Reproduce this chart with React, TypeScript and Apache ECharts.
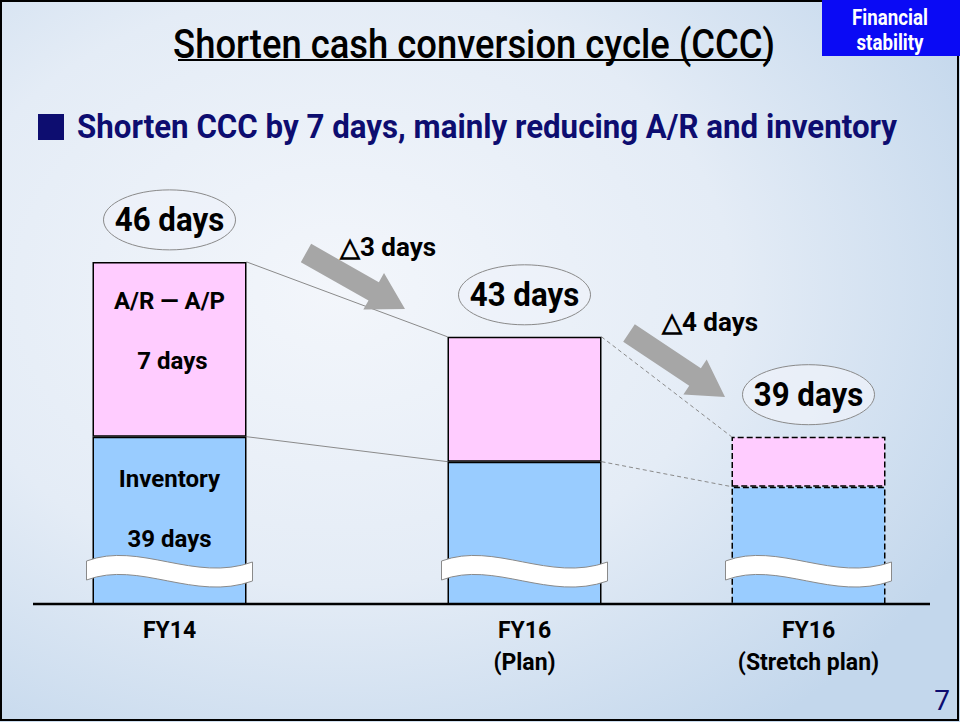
import React, { useEffect, useRef } from "react";
import * as echarts from "echarts";

// ---- data ----
const categories = ["FY14", "FY16\n(Plan)", "FY16\n(Stretch plan)"];
const inventoryDays = [39, 38, 37];
const arapDays = [7, 5, 2];
const changeLabels = ["△3 days", "△4 days"];
const titleText = "Shorten cash conversion cycle (CCC)";
const subtitleText = "Shorten CCC by 7 days, mainly reducing A/R and inventory";
const badgeLines = ["Financial", "stability"];
const pageNumber = "7";

// ---- layout ----
const SLOTS = [1, 6, 10];
const SLOT_COUNT = 12;
const Y_MIN = 32.3;
const Y_MAX = 50;
const BAR_W = 154;
const FONT = "Roboto, 'Noto Sans', sans-serif";
const NAVY = "#0D0D70";

function arrowPts(x1: number, y1: number, x2: number, y2: number, sw: number, hw: number, hl: number) {
  const dx = x2 - x1, dy = y2 - y1, L = Math.hypot(dx, dy);
  const ux = dx / L, uy = dy / L, nx = -uy, ny = ux;
  const bx = x2 - ux * hl, by = y2 - uy * hl;
  return [
    [x1 + (nx * sw) / 2, y1 + (ny * sw) / 2],
    [bx + (nx * sw) / 2, by + (ny * sw) / 2],
    [bx + (nx * hw) / 2, by + (ny * hw) / 2],
    [x2, y2],
    [bx - (nx * hw) / 2, by - (ny * hw) / 2],
    [bx - (nx * sw) / 2, by - (ny * sw) / 2],
    [x1 - (nx * sw) / 2, y1 - (ny * sw) / 2],
  ];
}

export default function App() {
  const ref = useRef<HTMLDivElement>(null);
  useEffect(() => {
    document.body.style.margin = "0";
    if (!ref.current) return;
    const chart = echarts.init(ref.current, undefined, { renderer: "svg" });

    const xCats: string[] = Array(SLOT_COUNT).fill("");
    SLOTS.forEach((s, i) => (xCats[s] = categories[i]));

    const invData: any[] = Array(SLOT_COUNT).fill(null);
    const arData: any[] = Array(SLOT_COUNT).fill(null);
    SLOTS.forEach((s, i) => {
      const dashed = i === 2;
      invData[s] = {
        value: inventoryDays[i],
        itemStyle: { borderType: dashed ? "dashed" : "solid" },
        label:
          i === 0
            ? { show: true, formatter: "Inventory\n\n" + inventoryDays[i] + " days" }
            : { show: false },
      };
      arData[s] = {
        value: arapDays[i],
        itemStyle: { borderType: dashed ? "dashed" : "solid" },
        label:
          i === 0
            ? { show: true, formatter: "A/R — A/P\n\n " + arapDays[i] + " days" }
            : { show: false },
      };
    });

    const totals = SLOTS.map((s, i) => [s, inventoryDays[i] + arapDays[i]]);
    const connectors: number[][] = [];
    for (let i = 0; i < SLOTS.length - 1; i++) {
      const dashed = i === 1 ? 1 : 0;
      connectors.push([SLOTS[i], inventoryDays[i] + arapDays[i], SLOTS[i + 1], inventoryDays[i + 1] + arapDays[i + 1], dashed]);
      connectors.push([SLOTS[i], inventoryDays[i], SLOTS[i + 1], inventoryDays[i + 1], dashed]);
    }
    const breaks = SLOTS.map((s) => [s, Y_MIN]);

    const labelBase = {
      position: "insideTop",
      color: "#000",
      fontFamily: FONT,
      fontWeight: "bold",
      fontSize: 24,
      lineHeight: 30,
    };

    const a1 = arrowPts(306, 253, 405, 309, 21, 42, 36);
    const a2 = arrowPts(629, 333, 725, 397, 21, 42, 36);

    chart.setOption({
      animation: false,
      grid: { left: 63, right: 45, top: 162, bottom: 118 },
      xAxis: {
        type: "category",
        data: xCats,
        axisLine: { show: false },
        axisTick: { show: false },
        axisLabel: {
          interval: 0,
          color: "#000",
          fontFamily: FONT,
          fontWeight: "bold",
          fontSize: 23,
          lineHeight: 32,
          margin: 10,
        },
      },
      yAxis: { type: "value", min: Y_MIN, max: Y_MAX, show: false },
      graphic: [
        {
          type: "rect",
          z: -100,
          silent: true,
          shape: { x: 0, y: 0, width: 960, height: 722 },
          style: {
            fill: new echarts.graphic.RadialGradient(0.35, 0.4, 0.75, [
              { offset: 0, color: "#F3F6FB" },
              { offset: 0.55, color: "#E4ECF6" },
              { offset: 1, color: "#C3D7EC" },
            ]),
          },
        },
        {
          type: "rect",
          z: 100,
          shape: { x: 1, y: 1, width: 957, height: 719 },
          style: { fill: "none", stroke: "#000", lineWidth: 2 },
        },
        {
          type: "rect",
          z: 100,
          shape: { x: 822, y: 0, width: 138, height: 56 },
          style: { fill: "#0A0AF5" },
        },
        {
          type: "text",
          z: 101,
          x: 890,
          y: 17,
          scaleX: 0.85,
          style: { x: 0, y: 0, text: badgeLines[0], align: "center", verticalAlign: "middle", fill: "#fff", fontFamily: FONT, fontWeight: "bold", fontSize: 22 },
        },
        {
          type: "text",
          z: 101,
          x: 890,
          y: 42,
          scaleX: 0.85,
          style: { x: 0, y: 0, text: badgeLines[1], align: "center", verticalAlign: "middle", fill: "#fff", fontFamily: FONT, fontWeight: "bold", fontSize: 22 },
        },
        {
          type: "text",
          z: 100,
          x: 474,
          y: 44,
          scaleX: 0.91,
          style: { x: 0, y: 0, text: titleText, align: "center", verticalAlign: "middle", fill: "#000", fontFamily: FONT, fontSize: 40, fontWeight: 500 },
        },
        {
          type: "line",
          z: 100,
          shape: { x1: 178, y1: 60, x2: 770, y2: 60 },
          style: { stroke: "#000", lineWidth: 2 },
        },
        {
          type: "rect",
          z: 100,
          shape: { x: 38, y: 114, width: 26, height: 26 },
          style: { fill: NAVY },
        },
        {
          type: "text",
          z: 100,
          x: 77,
          y: 127,
          scaleX: 0.92,
          style: { x: 0, y: 0, text: subtitleText, align: "left", verticalAlign: "middle", fill: NAVY, fontFamily: FONT, fontWeight: "bold", fontSize: 34 },
        },
        {
          type: "polygon",
          z: 50,
          shape: { points: a1 },
          style: { fill: "#A6A6A6" },
        },
        {
          type: "polygon",
          z: 50,
          shape: { points: a2 },
          style: { fill: "#A6A6A6" },
        },
        {
          type: "text",
          z: 100,
          x: 388,
          y: 247,
          style: { x: 0, y: 0, text: changeLabels[0], align: "center", verticalAlign: "middle", fill: "#000", fontFamily: FONT, fontWeight: "bold", fontSize: 26 },
        },
        {
          type: "text",
          z: 100,
          x: 710,
          y: 322,
          style: { x: 0, y: 0, text: changeLabels[1], align: "center", verticalAlign: "middle", fill: "#000", fontFamily: FONT, fontWeight: "bold", fontSize: 26 },
        },
        {
          type: "line",
          z: 60,
          shape: { x1: 33, y1: 604, x2: 930, y2: 604 },
          style: { stroke: "#000", lineWidth: 2.5 },
        },
        {
          type: "text",
          z: 100,
          x: 942,
          y: 700,
          style: { x: 0, y: 0, text: pageNumber, align: "center", verticalAlign: "middle", fill: NAVY, fontFamily: FONT, fontSize: 28 },
        },
      ],
      series: [
        {
          type: "custom",
          name: "connectors",
          z: 1,
          silent: true,
          clip: false,
          encode: { x: [0, 2], y: [1, 3] },
          data: connectors,
          renderItem: (params: any, api: any) => {
            const p1 = api.coord([api.value(0), api.value(1)]);
            const p2 = api.coord([api.value(2), api.value(3)]);
            const dashed = api.value(4) === 1;
            return {
              type: "line",
              shape: { x1: p1[0] + BAR_W / 2, y1: p1[1], x2: p2[0] - BAR_W / 2, y2: p2[1] },
              style: { stroke: "#8a8a8a", lineWidth: 1, lineDash: dashed ? [4, 3] : null },
            };
          },
        },
        {
          type: "bar",
          name: "Inventory",
          stack: "ccc",
          barWidth: BAR_W,
          z: 2,
          data: invData,
          itemStyle: { color: "#99CCFF", borderColor: "#000", borderWidth: 1.5 },
          label: { ...labelBase, distance: 27 },
        },
        {
          type: "bar",
          name: "A/R − A/P",
          stack: "ccc",
          barWidth: BAR_W,
          z: 2,
          data: arData,
          itemStyle: { color: "#FFCCFF", borderColor: "#000", borderWidth: 1.5 },
          label: { ...labelBase, distance: 24 },
        },
        {
          type: "custom",
          name: "breaks",
          z: 5,
          silent: true,
          clip: false,
          data: breaks,
          renderItem: (params: any, api: any) => {
            const p = api.coord([api.value(0), api.value(1)]);
            const cx = p[0], cy = p[1] - 33;
            const w = 83;
            const d =
              `M ${cx - w} ${cy - 10} C ${cx - 30} ${cy - 30} ${cx + 25} ${cy + 12} ${cx + w} ${cy - 9} ` +
              `L ${cx + w} ${cy + 10} C ${cx + 25} ${cy + 31} ${cx - 30} ${cy - 11} ${cx - w} ${cy + 9} Z`;
            return {
              type: "path",
              shape: { pathData: d },
              style: { fill: "#fff", stroke: "#8a8a8a", lineWidth: 1 },
            };
          },
        },
        {
          type: "custom",
          name: "totals",
          z: 6,
          silent: true,
          clip: false,
          data: totals,
          renderItem: (params: any, api: any) => {
            const p = api.coord([api.value(0), api.value(1)]);
            const cx = p[0], cy = p[1] - 42;
            return {
              type: "group",
              children: [
                {
                  type: "ellipse",
                  shape: { cx, cy, rx: 66, ry: 30 },
                  style: { fill: "rgba(238,242,249,0.75)", stroke: "#8a8a8a", lineWidth: 1 },
                },
                {
                  type: "text",
                  x: cx,
                  y: cy,
                  scaleX: 0.92,
                  style: {
                    x: 0,
                    y: 0,
                    text: api.value(1) + " days",
                    align: "center",
                    verticalAlign: "middle",
                    fill: "#000",
                    fontFamily: FONT,
                    fontWeight: "bold",
                    fontSize: 34,
                  },
                },
              ],
            };
          },
        },
      ],
    });
    return () => chart.dispose();
  }, []);
  return <div ref={ref} style={{ width: 960, height: 722 }} />;
}
